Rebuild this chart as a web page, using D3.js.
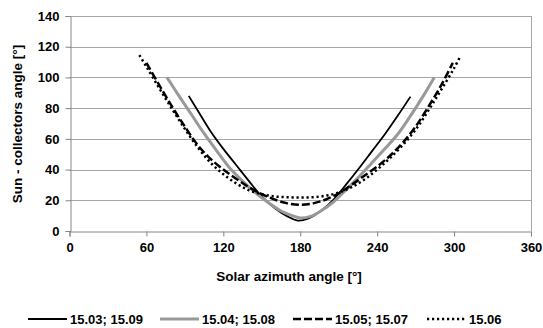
<!DOCTYPE html>
<html>
<head>
<meta charset="utf-8">
<script src="https://cdn.jsdelivr.net/npm/d3@7"></script>
<style>
  body { margin: 0; background: #fff; }
  text { font-family: "Liberation Sans", Arial, sans-serif; }
</style>
</head>
<body>
<div id="chart"></div>
<script>
// Data
const xTicks = [0, 60, 120, 180, 240, 300, 360];
const yTicks = [0, 20, 40, 60, 80, 100, 120, 140];

const seriesNames = ["15.03; 15.09", "15.04; 15.08", "15.05; 15.07", "15.06"];

const azimuth1 = [93, 100, 110, 120, 130, 140, 150, 160, 170, 178, 186, 196, 206, 216, 226, 236, 246, 256, 266];
const angle1   = [88, 78.5, 65, 53.5, 43, 32.5, 22.5, 15, 9.5, 6.8, 8, 13, 20.5, 30.5, 41, 52, 63, 75, 87.5];

const azimuth2 = [76, 85, 95, 105, 115, 125, 135, 145, 155, 165, 172, 180, 188, 196, 206, 216, 226, 236, 246, 256, 266, 276, 284.5];
const angle2   = [100, 88.5, 76, 63.5, 52, 41, 32.5, 25, 18.5, 13, 10.5, 8.5, 9.5, 13, 19, 27, 35.5, 44.5, 53.5, 63, 75, 88, 100];

const azimuth3 = [60, 70, 80, 90, 100, 110, 120, 130, 140, 150, 160, 170, 180, 190, 200, 210, 220, 230, 240, 250, 260, 270, 280, 290, 299];
const angle3   = [109.5, 95, 81, 68, 56, 47, 40, 34, 28.5, 24, 20.5, 18, 17, 18, 20.5, 24.5, 30, 36, 42, 49, 57.5, 68, 81, 95, 109.5];

const azimuth4 = [54.5, 60, 70, 80, 90, 100, 110, 120, 130, 140, 150, 160, 170, 180, 190, 200, 210, 220, 230, 240, 250, 260, 270, 280, 290, 300, 305];
const angle4   = [114.5, 107, 93, 79.5, 66.5, 54.5, 44.5, 37, 31, 26.5, 24, 22.5, 22, 21.8, 22, 23, 25, 28.5, 33.5, 40, 47.5, 56, 66, 78.5, 92, 106, 114];

const legendX = [28, 160, 293, 427];

const width = 543, height = 328;
const svg = d3.select("#chart").append("svg")
    .attr("width", width)
    .attr("height", height);

const x = d3.scaleLinear().domain([0, 360]).range([69.5, 531]);
const y = d3.scaleLinear().domain([0, 140]).range([231, 16]);

// gridlines
svg.append("g")
    .selectAll("line")
    .data(yTicks.slice(1))
    .enter()
    .append("line")
    .attr("x1", x(0)).attr("x2", x(360))
    .attr("y1", d => Math.round(y(d)) + 0.5).attr("y2", d => Math.round(y(d)) + 0.5)
    .attr("stroke", "#a6a6a6")
    .attr("stroke-width", 1);

// right border
svg.append("line")
    .attr("x1", Math.round(x(360)) + 0.5).attr("x2", Math.round(x(360)) + 0.5)
    .attr("y1", y(140)).attr("y2", y(0))
    .attr("stroke", "#a6a6a6");

// axes
const xAxis = svg.append("g")
    .attr("transform", `translate(0, ${Math.round(y(0)) + 0.5})`)
    .call(d3.axisBottom(x).tickValues(xTicks).tickSize(5).tickPadding(6));
const yAxis = svg.append("g")
    .attr("transform", `translate(${Math.round(x(0)) + 0.5}, 0)`)
    .call(d3.axisLeft(y).tickValues(yTicks).tickSize(5).tickPadding(6));

[xAxis, yAxis].forEach(g => {
    g.select(".domain").attr("stroke", "#868686");
    g.selectAll(".tick line").attr("stroke", "#868686");
    g.selectAll(".tick text")
        .style("font-size", "13px")
        .style("font-weight", "bold")
        .attr("fill", "#000");
});

// axis titles
svg.append("text")
    .attr("x", 289).attr("y", 281)
    .attr("text-anchor", "middle")
    .style("font-size", "13.5px")
    .style("font-weight", "bold")
    .text("Solar azimuth angle [°]");

svg.append("text")
    .attr("transform", "translate(22, 124) rotate(-90)")
    .attr("text-anchor", "middle")
    .style("font-size", "13.5px")
    .style("font-weight", "bold")
    .text("Sun - collectors angle [°]");

// series
const styles = [
    { color: "#000", width: 1.8, dash: null },
    { color: "#999", width: 3, dash: null },
    { color: "#000", width: 2.5, dash: "8,3" },
    { color: "#000", width: 2.5, dash: "2.2,2.8" }
];
const seriesData = [
    d3.zip(azimuth1, angle1),
    d3.zip(azimuth2, angle2),
    d3.zip(azimuth3, angle3),
    d3.zip(azimuth4, angle4)
];

const line = d3.line()
    .x(d => x(d[0]))
    .y(d => y(d[1]))
    .curve(d3.curveCatmullRom.alpha(0.5));

seriesData.forEach((pts, i) => {
    svg.append("path")
        .datum(pts)
        .attr("d", line)
        .attr("fill", "none")
        .attr("stroke", styles[i].color)
        .attr("stroke-width", styles[i].width)
        .attr("stroke-dasharray", styles[i].dash);
});

// legend
const legend = svg.append("g").attr("transform", "translate(0, 319)");
seriesNames.forEach((name, i) => {
    const lx = legendX[i];
    legend.append("line")
        .attr("x1", lx).attr("x2", lx + 39)
        .attr("y1", 0).attr("y2", 0)
        .attr("stroke", styles[i].color)
        .attr("stroke-width", styles[i].width)
        .attr("stroke-dasharray", styles[i].dash);
    legend.append("text")
        .attr("x", lx + 42).attr("y", 4.5)
        .style("font-size", "13px")
        .style("font-weight", "bold")
        .text(name);
});
</script>
</body>
</html>
